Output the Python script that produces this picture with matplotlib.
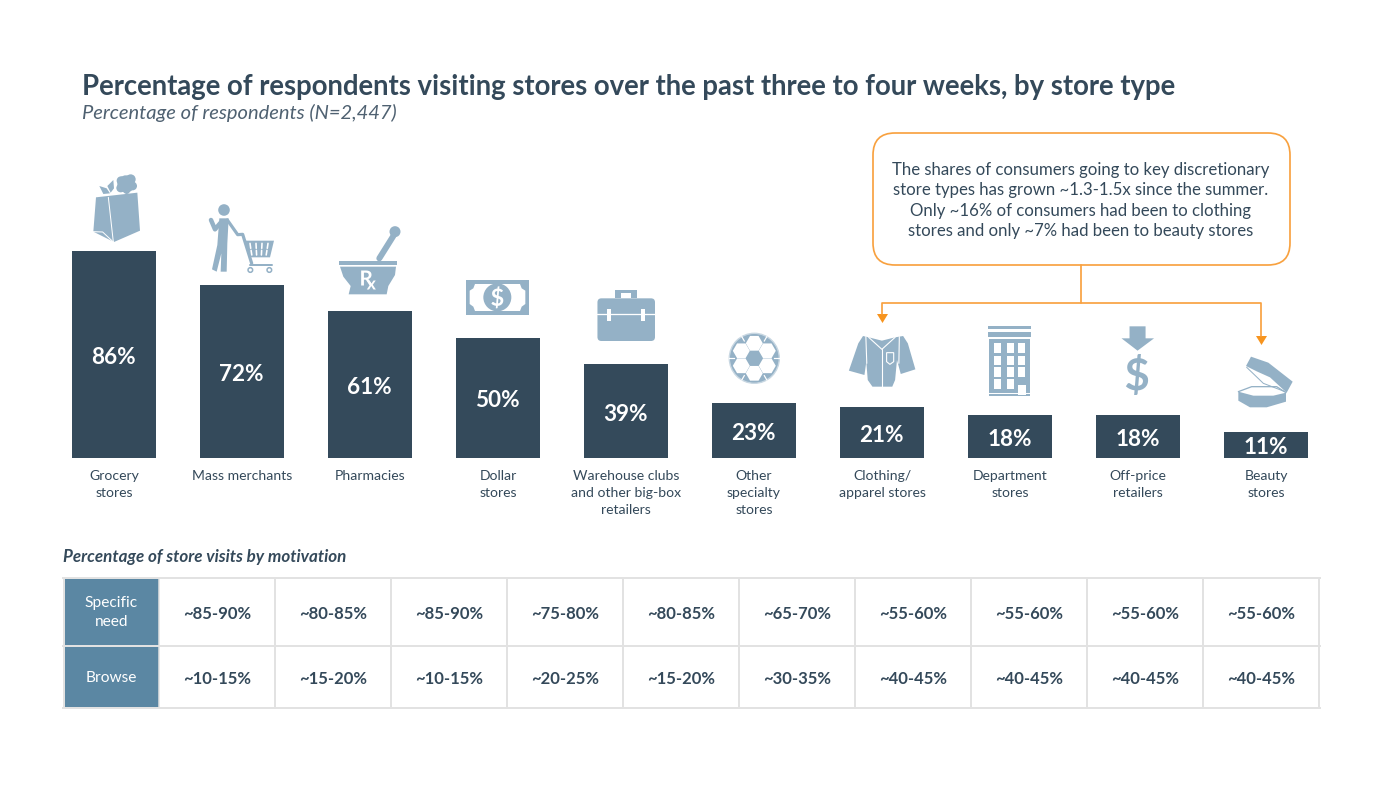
import numpy as np
import matplotlib
matplotlib.use("Agg")
import matplotlib.pyplot as plt
from matplotlib.patches import Polygon, Circle, Rectangle, FancyBboxPatch, PathPatch
from matplotlib.textpath import TextPath
from matplotlib.font_manager import FontProperties
from matplotlib.transforms import Affine2D

plt.rcParams['font.family'] = ['Lato', 'DejaVu Sans']

TITLE = "Percentage of respondents visiting stores over the past three to four weeks, by store type"
SUBTITLE = "Percentage of respondents (N=2,447)"
categories = ["Grocery\nstores", "Mass merchants", "Pharmacies", "Dollar\nstores",
              "Warehouse clubs\nand other big-box\nretailers", "Other\nspecialty\nstores",
              "Clothing/\napparel stores", "Department\nstores", "Off-price\nretailers", "Beauty\nstores"]
values = [86, 72, 61, 50, 39, 23, 21, 18, 18, 11]
TABLE_TITLE = "Percentage of store visits by motivation"
row_labels = ["Specific\nneed", "Browse"]
specific_need = ["~85-90%", "~80-85%", "~85-90%", "~75-80%", "~80-85%", "~65-70%", "~55-60%", "~55-60%", "~55-60%", "~55-60%"]
browse = ["~10-15%", "~15-20%", "~10-15%", "~20-25%", "~15-20%", "~30-35%", "~40-45%", "~40-45%", "~40-45%", "~40-45%"]
CALLOUT = ("The shares of consumers going to key discretionary\n"
           "store types has grown ~1.3-1.5x since the summer.\n"
           "Only ~16% of consumers had been to clothing\n"
           "stores and only ~7% had been to beauty stores")

DARK = "#344a5b"
TXT = "#34495a"
ICON = "#94b1c6"
ORANGE = "#f8a13f"
ORANGE_D = "#f7941e"
HEAD = "#5b87a3"
GRID = "#e2e2e2"
W, H = 1383, 794
fig = plt.figure(figsize=(W/100, H/100), dpi=100, facecolor="white")
px = lambda p: p * 0.72

# Bars on their own axes: x 50..1330 px, 0..100 % = y 458..217.3 px
ax = fig.add_axes([50/W, 1-458/H, 1280/W, 240.7/H])
ax.set_xlim(-0.5, 9.5); ax.set_ylim(0, 100); ax.axis("off")
xs = np.arange(len(values))
ax.bar(xs, values, width=84/128, color=DARK)
for x, v in zip(xs, values):
    ax.annotate(f"{v}%", (x, v/2), xytext=(-0.3, -0.7), textcoords="offset points", color="white", ha="center",
                va="center_baseline", fontsize=px(22.5), fontweight="bold")

# Overlay in pixel coordinates
o = fig.add_axes([0, 0, 1, 1], zorder=3)
o.set_xlim(0, W); o.set_ylim(H, 0); o.axis("off"); o.patch.set_alpha(0)

o.text(82, 86.5, TITLE, color=TXT, fontsize=px(27.55), fontweight="bold", va="center", ha="left")
o.text(82, 113, SUBTITLE, color="#4f6171", fontsize=px(20.2), style="italic", fontweight="normal", va="center", ha="left")

for x, c in zip(xs, categories):
    for j, line_txt in enumerate(c.split("\n")):
        o.text(114 + 128*x, 476 + 17*j, line_txt, color=TXT, fontsize=px(14), ha="center", va="center")

z1 = lambda pts: [(60 + a/3, 160 + b/3) for a, b in pts]
z2 = lambda pts: [(580 + a/2.12, 280 + b/3) for a, b in pts]
zp = lambda pts: [(200 + a/3, 200 + b/3) for a, b in pts]
zc = lambda pts: [(1220 + a/3, 350 + b/3) for a, b in pts]

def poly(pts, fc=ICON, ec="none", lw=0):
    o.add_patch(Polygon(pts, closed=True, fc=fc, ec=ec, lw=lw))
def line(pts, c="white", lw=1.0):
    arr = np.array(pts)
    o.plot(arr[:, 0], arr[:, 1], color=c, lw=px(lw), solid_capstyle="round", solid_joinstyle="round")
def disc(x, y, r, fc=ICON, ec="none", lw=0):
    o.add_patch(Circle((x, y), r, fc=fc, ec=ec, lw=lw))
def box(x0, y0, x1, y1, fc=ICON, ec="none", lw=0):
    o.add_patch(Rectangle((x0, y0), x1-x0, y1-y0, fc=fc, ec=ec, lw=lw))
def glyph(s, cx, cy, h, fc="white", weight="bold"):
    tp = TextPath((0, 0), s, size=100, prop=FontProperties(family="Lato", weight=weight))
    e = tp.get_extents()
    k = h / e.height
    tr = Affine2D().translate(-(e.x0+e.x1)/2, -(e.y0+e.y1)/2).scale(k, -k).translate(cx, cy)
    o.add_patch(PathPatch(tr.transform_path(tp), fc=fc, ec="none", lw=0))

# Grocery bag
for (a, b, r) in [(198, 72, 26), (183, 62, 13), (212, 58, 15), (218, 78, 13), (182, 84, 13), (200, 92, 10)]:
    (x, y), = z1([(a, b)]); disc(x, y, r/3)
poly(z1([(118, 78), (140, 85), (150, 100), (130, 102)]))
poly(z1([(142, 78), (160, 60), (162, 85), (152, 98)]))
poly(z1([(108, 112), (232, 98), (240, 212), (162, 246), (100, 215)]))
line(z1([(145, 112), (160, 246)]), lw=1)
line(z1([(100, 215), (128, 216), (160, 246)]), lw=1)

# Person with cart
(x, y), = zp([(72, 30)]); disc(x, y, 5.8)
poly(zp([(58, 55), (86, 55), (82, 130), (80, 215), (62, 215), (64, 160), (50, 215), (36, 208), (52, 135)]))
line(zp([(62, 68), (45, 88), (33, 60)]), ICON, 4.5)
line(zp([(82, 60), (113, 104), (128, 103), (155, 190)]), ICON, 3.2)
poly(zp([(135, 122), (222, 122), (210, 172), (150, 172)]))
for a in [150, 168, 186, 204]:
    line(zp([(a, 130), (a+ (177-a)*0.08, 145)]), lw=1.6)
    line(zp([(a + (177-a)*0.12, 151), (a + (177-a)*0.2, 165)]), lw=1.6)
line(zp([(150, 195), (215, 195)]), ICON, 2)
for a in [151, 208]:
    (x, y), = zp([(a, 210)]); disc(x, y, 2.3, fc="white", ec=ICON, lw=1.1)

# Mortar and pestle
line(z1([(958, 295), (1000, 228)]), ICON, 6)
(x, y), = z1([(1005, 215)]); disc(x, y, 5.5)
poly(z1([(838, 302), (1010, 302), (1010, 314), (838, 314)]))
poly(z1([(840, 320), (1008, 320), (1005, 345), (985, 378), (980, 403), (866, 403), (872, 378), (850, 350)]))
(x, y), = z1([(921, 354)]); glyph("R", x, y, 15, weight="bold")
(x, y), = z1([(934, 375)]); glyph("x", x, y, 9, weight="bold")

# Banknote
x0, y0 = z1([(1217, 360)])[0]; x1, y1 = z1([(1408, 465)])[0]
box(x0, y0, x1, y1)
poly(z1([(1245, 372), (1380, 372), (1385, 385), (1396, 392), (1396, 432), (1385, 440), (1380, 453),
         (1245, 453), (1240, 440), (1229, 432), (1229, 392), (1240, 385)]), fc="white")
(x, y), = z1([(1312, 412)]); disc(x, y, 14); glyph("$", x, y, 22)

# Briefcase
pts = z2([(37, 55), (159, 183)])
poly(z2([(75, 55), (75, 30), (120, 30), (120, 55), (109, 55), (109, 40), (86, 40), (86, 55)]))
o.add_patch(FancyBboxPatch((pts[0][0]+2, pts[0][1]+2), pts[1][0]-pts[0][0]-4, pts[1][1]-pts[0][1]-4,
                           boxstyle="round,pad=2,rounding_size=4", fc=ICON, ec="none"))
line(z2([(37, 101), (159, 101)]), lw=1.3)
for a in [61, 134]:
    p = z2([(a-4, 88), (a+4, 122)]); box(p[0][0], p[0][1], p[1][0], p[1][1], fc="white")

# Soccer ball
cx, cy, R = 754.3, 358.3, 25
clip = Circle((cx, cy), R, transform=o.transData)
disc(cx, cy, R, fc=ICON, ec="#c8d7e2", lw=1)
for k in range(6):
    ang = np.pi/2 + k*np.pi/3
    hx, hy = cx + 0.60*R*np.cos(ang), cy + 0.60*R*np.sin(ang)
    hexa = [(hx + 0.34*R*np.cos(t), hy + 0.34*R*np.sin(t)) for t in np.arange(6)*np.pi/3]
    pg = Polygon(hexa, closed=True, fc="white", ec="none")
    o.add_patch(pg); pg.set_clip_path(clip)
    a2 = ang + np.pi/6
    l, = o.plot([cx + 0.80*R*np.cos(a2), cx + R*np.cos(a2)], [cy + 0.80*R*np.sin(a2), cy + R*np.sin(a2)],
                color="white", lw=px(1.2))

# Coat
poly(z2([(600, 168), (612, 172), (640, 182), (668, 172), (685, 168), (695, 190), (711, 268), (680, 282), (672, 240),
         (668, 300), (662, 320), (620, 320), (610, 300), (607, 245), (603, 285), (570, 272), (590, 190)]))
line(z2([(606, 170), (608, 250)]), lw=1.1)
line(z2([(677, 170), (676, 250)]), lw=1.1)
line(z2([(612, 172), (640, 208), (668, 172)]), lw=1.1)
line(z2([(640, 208), (640, 320)]), lw=1.1)
poly(z2([(650, 218), (665, 218), (665, 245), (657, 253), (650, 245)]), fc="none", ec="white", lw=0.8)

# Department store
for a, b in [(139, 146), (155, 172)]:
    p = z2([(866, a), (957, b)]); box(p[0][0], p[0][1], p[1][0], p[1][1])
p = z2([(868, 176), (955, 338)]); box(p[0][0], p[0][1], p[1][0], p[1][1])
p = z2([(868, 341), (955, 347)]); box(p[0][0], p[0][1], p[1][0], p[1][1])
for r, (a, b) in enumerate([(190, 218), (227, 255), (262, 290), (298, 326)]):
    for c, (l, rr) in enumerate([(878, 893), (905, 920), (929, 944)]):
        if r == 3 and c == 2:
            continue
        p = z2([(l, a), (rr, b)]); box(p[0][0], p[0][1], p[1][0], p[1][1], fc="white")
p = z2([(929, 315), (946, 345)]); box(p[0][0], p[0][1], p[1][0], p[1][1], fc="white")

# Price arrow
poly(z2([(1165, 139), (1199, 139), (1199, 175), (1217, 175), (1182, 212), (1148, 175), (1165, 175)]))
glyph("$", 1137, 374.5, 41, fc=ICON, weight="bold")

# Compact
poly(zc([(78, 48), (93, 20), (145, 38), (218, 95), (200, 128), (150, 82), (110, 64)]))
line(zc([(80, 52), (130, 100), (195, 125)]), ICON, 1)
poly(zc([(55, 125), (100, 137), (160, 137), (198, 128), (198, 155), (140, 172), (90, 172), (55, 152)]))
line(zc([(55, 125), (95, 110), (170, 110), (198, 128)]), ICON, 1.3)

# Callout
o.add_patch(FancyBboxPatch((873+22, 133+22), 417-44, 132-44, boxstyle="round,pad=22,rounding_size=22",
                           fc="white", ec=ORANGE, lw=px(1.7)))
for j, t in enumerate(CALLOUT.split("\n")):
    o.text(1081, 170 + 20.4*j, t, color=TXT, fontsize=px(16.7), ha="center", va="center")
line([(1081, 265), (1081, 303)], ORANGE, 1.7)
line([(882, 314), (882, 303), (1261, 303), (1261, 336)], ORANGE, 1.7)
poly([(877, 314), (888, 314), (882.5, 323)], fc=ORANGE_D)
poly([(1256, 336), (1267, 336), (1261.5, 345)], fc=ORANGE_D)

# Table
o.text(63, 557, TABLE_TITLE, color=TXT, fontsize=px(17), fontweight="bold", style="italic", va="center", ha="left")
col_x = 159 + 116*np.arange(11)
rows_y = [578, 646, 708]
o.add_patch(Rectangle((64, 578), 95, 130, fc=HEAD, ec="none"))
for xx in list(col_x) + [64]:
    if xx != 159:
        o.plot([xx, xx], [578, 708], color=GRID, lw=px(2))
o.plot([159, 159], [578, 708], color=GRID, lw=px(1.5))
for yy in rows_y:
    o.plot([63, 1320], [yy, yy], color=GRID, lw=px(2))
for r, (lab, vals, cy) in enumerate(zip(row_labels, [specific_need, browse], [614, 679])):
    lines = lab.split("\n")
    for j, t in enumerate(lines):
        o.text(111.5, (613 if len(lines) > 1 else 678) + 19*(j - (len(lines)-1)/2), t, color="white",
               fontsize=px(15.5), ha="center", va="center")
    for c, t in enumerate(vals):
        o.text(217 + 116*c, cy, t, color=TXT, fontsize=px(16.6), fontweight="bold", ha="center", va="center")

fig.savefig("out.png", dpi=100, facecolor="white")
